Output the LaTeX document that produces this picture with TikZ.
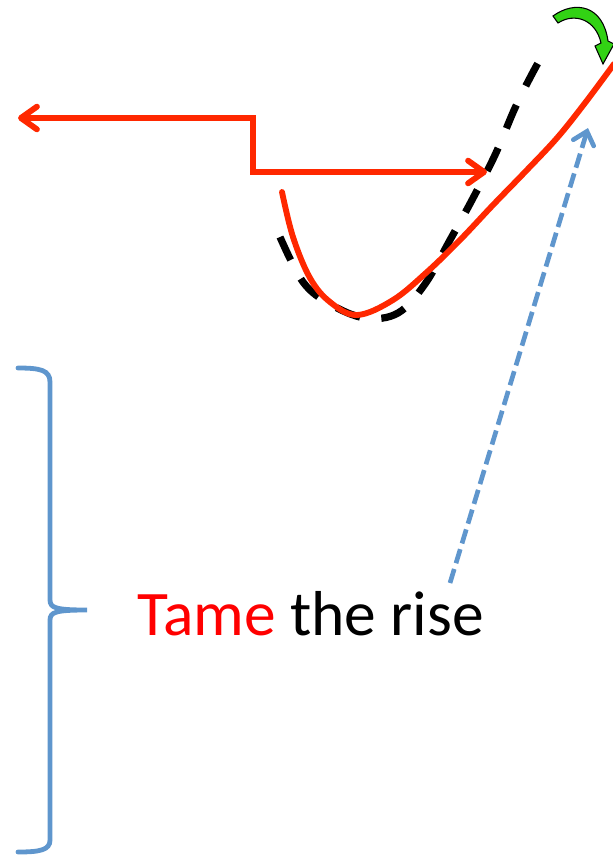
\documentclass[tikz,border=0pt]{standalone}
\usepackage{fontspec}
\setmainfont{Carlito}
\usetikzlibrary{arrows.meta}
\definecolor{stepred}{RGB}{255,40,0}
\definecolor{braceblue}{RGB}{95,150,205}
\definecolor{turngreen}{RGB}{50,210,20}

\begin{document}
\begin{tikzpicture}[x=0.75pt,y=-0.75pt,
    redline/.style={stepred,line width=4.4pt,line cap=round},
    fitline/.style={black,line width=5.4pt,dash pattern=on 19pt off 16pt},
    bluedash/.style={braceblue,line width=3.5pt,dash pattern=on 11pt off 4.5pt},
    barb/.tip={Straight Barb[length=12pt,width=17pt,line cap=round,line join=round]}]
  \useasboundingbox (0,0) rectangle (612,858);
  \coordinate (lefttip) at (18,118);
  \coordinate (righttip) at (487,172);
  \coordinate (ratelabel) at (450,583);
  \coordinate (curvepoint) at (588,128);
  \draw[fitline] plot[smooth,tension=0.6] coordinates {(280,237) (303,282) (330,304) (365,318) (398,313) (425,284) (450,240) (472,200) (495,155) (515,108) (532,74) (547,47)};
  \draw[redline] plot[smooth,tension=0.6] coordinates {(282,192) (293,237) (310,278) (330,302) (357,315) (393,300) (427,272) (460,240) (493,205) (525,172) (557,138) (585,103) (614,64)};
  \draw[redline,line cap=butt,barb-barb] (righttip) -- (253,172) -- (253,118) -- (lefttip);
  \filldraw[fill=turngreen,draw=black,line width=0.8pt] (553,16) .. controls (575,0) and (603,5) .. (608,41) -- (614,44) -- (603,64) -- (595,46) -- (601,43) .. controls (596,20) and (575,12) .. (558,23) -- cycle;
  \draw[bluedash,-{Straight Barb[length=9pt,width=16pt,line cap=round]}] (ratelabel) -- (curvepoint);
  \draw[braceblue,line width=3.6pt,line cap=round] (18,368) .. controls (40,368) and (50,370) .. (50,382) -- (50,600) .. controls (50,608) and (56,610) .. (87,610) .. controls (56,610) and (50,612) .. (50,620) -- (50,840) .. controls (50,850) and (40,852) .. (18,852);
  \node[anchor=base west,inner sep=0pt,font=\fontsize{47.6pt}{57pt}\selectfont] (tame) at (137,635) {\textcolor{red}{Tame} the rise};
\end{tikzpicture}
\end{document}
